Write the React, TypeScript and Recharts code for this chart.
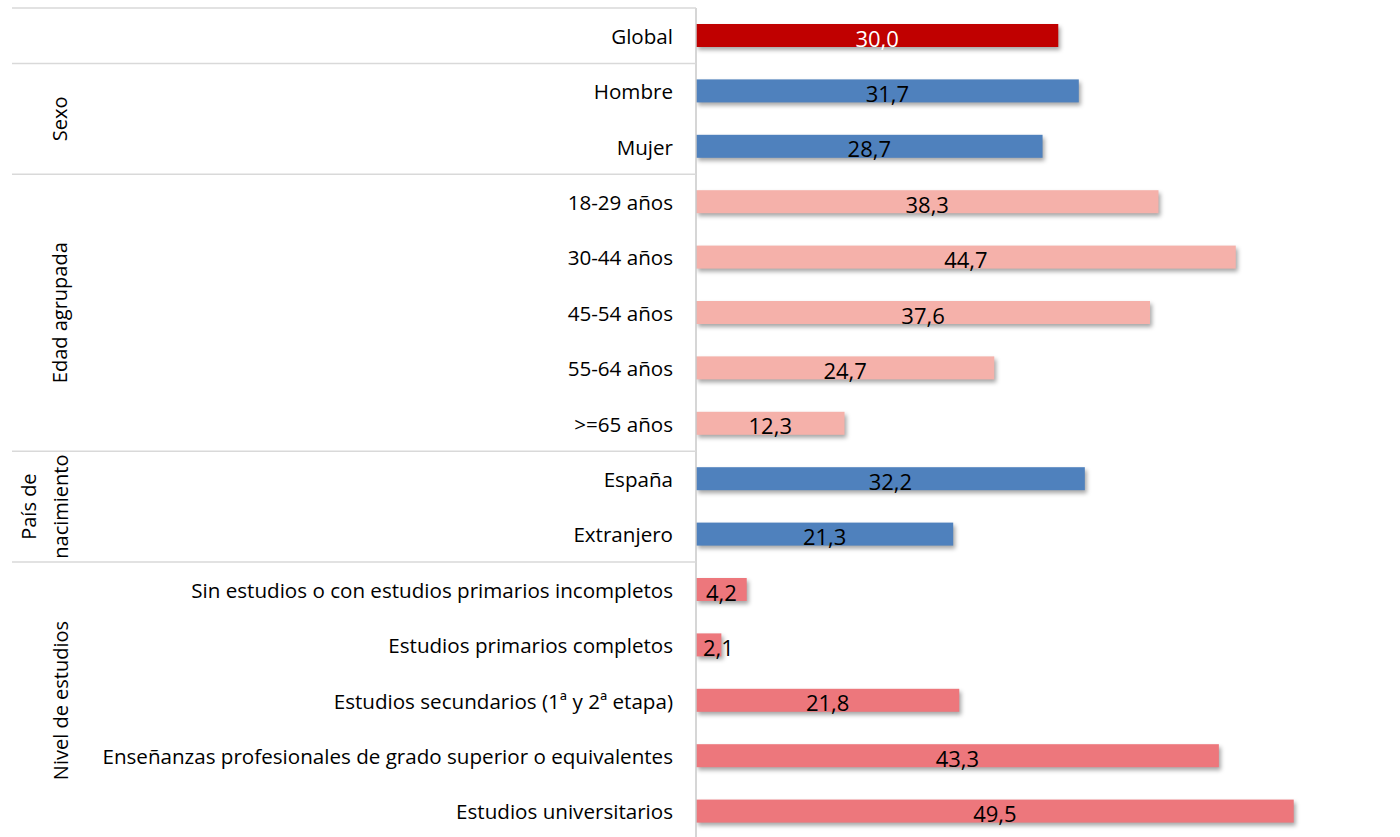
import React from "react";
import { Bar, BarChart, Cell, LabelList, XAxis, YAxis } from "recharts";

const categories = [
  "Global",
  "Hombre",
  "Mujer",
  "18-29 años",
  "30-44 años",
  "45-54 años",
  "55-64 años",
  ">=65 años",
  "España",
  "Extranjero",
  "Sin estudios o con estudios primarios incompletos",
  "Estudios primarios completos",
  "Estudios secundarios (1ª y 2ª etapa)",
  "Enseñanzas profesionales de grado superior o equivalentes",
  "Estudios universitarios",
];

const values = [30.0, 31.7, 28.7, 38.3, 44.7, 37.6, 24.7, 12.3, 32.2, 21.3, 4.2, 2.1, 21.8, 43.3, 49.5];

// group name (lines), number of categories, bar colour
const groupNames: string[][] = [[], ["Sexo"], ["Edad agrupada"], ["País de", "nacimiento"], ["Nivel de estudios"]];
const groupSizes = [1, 2, 5, 2, 5];
const groupColors = ["#C00000", "#4F81BD", "#F5B1AA", "#4F81BD", "#ED777C"];

const FONT = "'Open Sans', sans-serif";

const groupOf: number[] = groupSizes.flatMap((n, g) => Array(n).fill(g));
const groupStart: number[] = groupSizes.map((_, g) => groupSizes.slice(0, g).reduce((a, b) => a + b, 0));

const data = categories.map((name, i) => ({ name, value: values[i], group: groupOf[i] }));

function CategoryTick(props: any) {
  const { x, y, payload, index } = props;
  const half = payload?.offset ?? 27.7;
  const g = groupOf[index];
  const isFirst = groupStart[g] === index;
  const top = y - half;
  const groupMid = top + groupSizes[g] * half;
  const lines = groupNames[g];
  return (
    <g>
      {isFirst && <line x1={12} x2={696} y1={top} y2={top} stroke="#d9d9d9" strokeWidth={1.5} />}
      {isFirst &&
        lines.map((t, k) => {
          const cx = lines.length === 1 ? 60 : 29 + k * 32;
          return (
            <text
              key={t}
              x={cx}
              y={groupMid}
              transform={`rotate(-90 ${cx} ${groupMid})`}
              textAnchor="middle"
              dominantBaseline="central"
              fontFamily={FONT}
              fontSize={20}
              fill="#000"
            >
              {t}
            </text>
          );
        })}
      <text x={x} y={y} textAnchor="end" dominantBaseline="central" fontFamily={FONT} fontSize={20.6} fill="#000">
        {payload.value}
      </text>
    </g>
  );
}

function ShadowBar(props: any) {
  const { x, y, width, height, fill } = props;
  return (
    <rect
      x={x}
      y={y}
      width={Math.max(width, 0)}
      height={height}
      fill={fill}
      style={{ filter: "drop-shadow(2px 3px 2px rgba(0,0,0,0.35))" }}
    />
  );
}

function ValueLabel(props: any) {
  const { x, y, width, height, value, index } = props;
  const label = Number(value).toFixed(1).replace(".", ",");
  const narrow = width < 40;
  return (
    <text
      x={narrow ? x + 7 : x + width / 2}
      y={y + height / 2 + 2}
      textAnchor={narrow ? "start" : "middle"}
      dominantBaseline="central"
      fontFamily={FONT}
      fontSize={22}
      fill={index === 0 ? "#fff" : "#000"}
    >
      {label}
    </text>
  );
}

export default function App() {
  return (
    <div style={{ position: "absolute", left: 0, top: 0, width: 1400, height: 837, overflow: "hidden", background: "#fff" }}>
      <BarChart
        width={1400}
        height={839}
        data={data}
        layout="vertical"
        margin={{ top: 8, right: 0, bottom: 0, left: 0 }}
        barCategoryGap={0}
      >
        <XAxis
          type="number"
          orientation="top"
          domain={[0, 58.3]}
          allowDataOverflow
          tick={false}
          tickLine={false}
          height={0}
          axisLine={{ stroke: "#b8b8b8", strokeWidth: 1.5 }}
        />
        <YAxis
          type="category"
          dataKey="name"
          width={696}
          interval={0}
          tickLine={false}
          tickMargin={17}
          axisLine={{ stroke: "#c8c8c8", strokeWidth: 1.5 }}
          tick={<CategoryTick />}
        />
        <Bar dataKey="value" barSize={23} isAnimationActive={false} shape={<ShadowBar />}>
          {data.map((d) => (
            <Cell key={d.name} fill={groupColors[d.group]} />
          ))}
          <LabelList dataKey="value" content={<ValueLabel />} />
        </Bar>
      </BarChart>
    </div>
  );
}
